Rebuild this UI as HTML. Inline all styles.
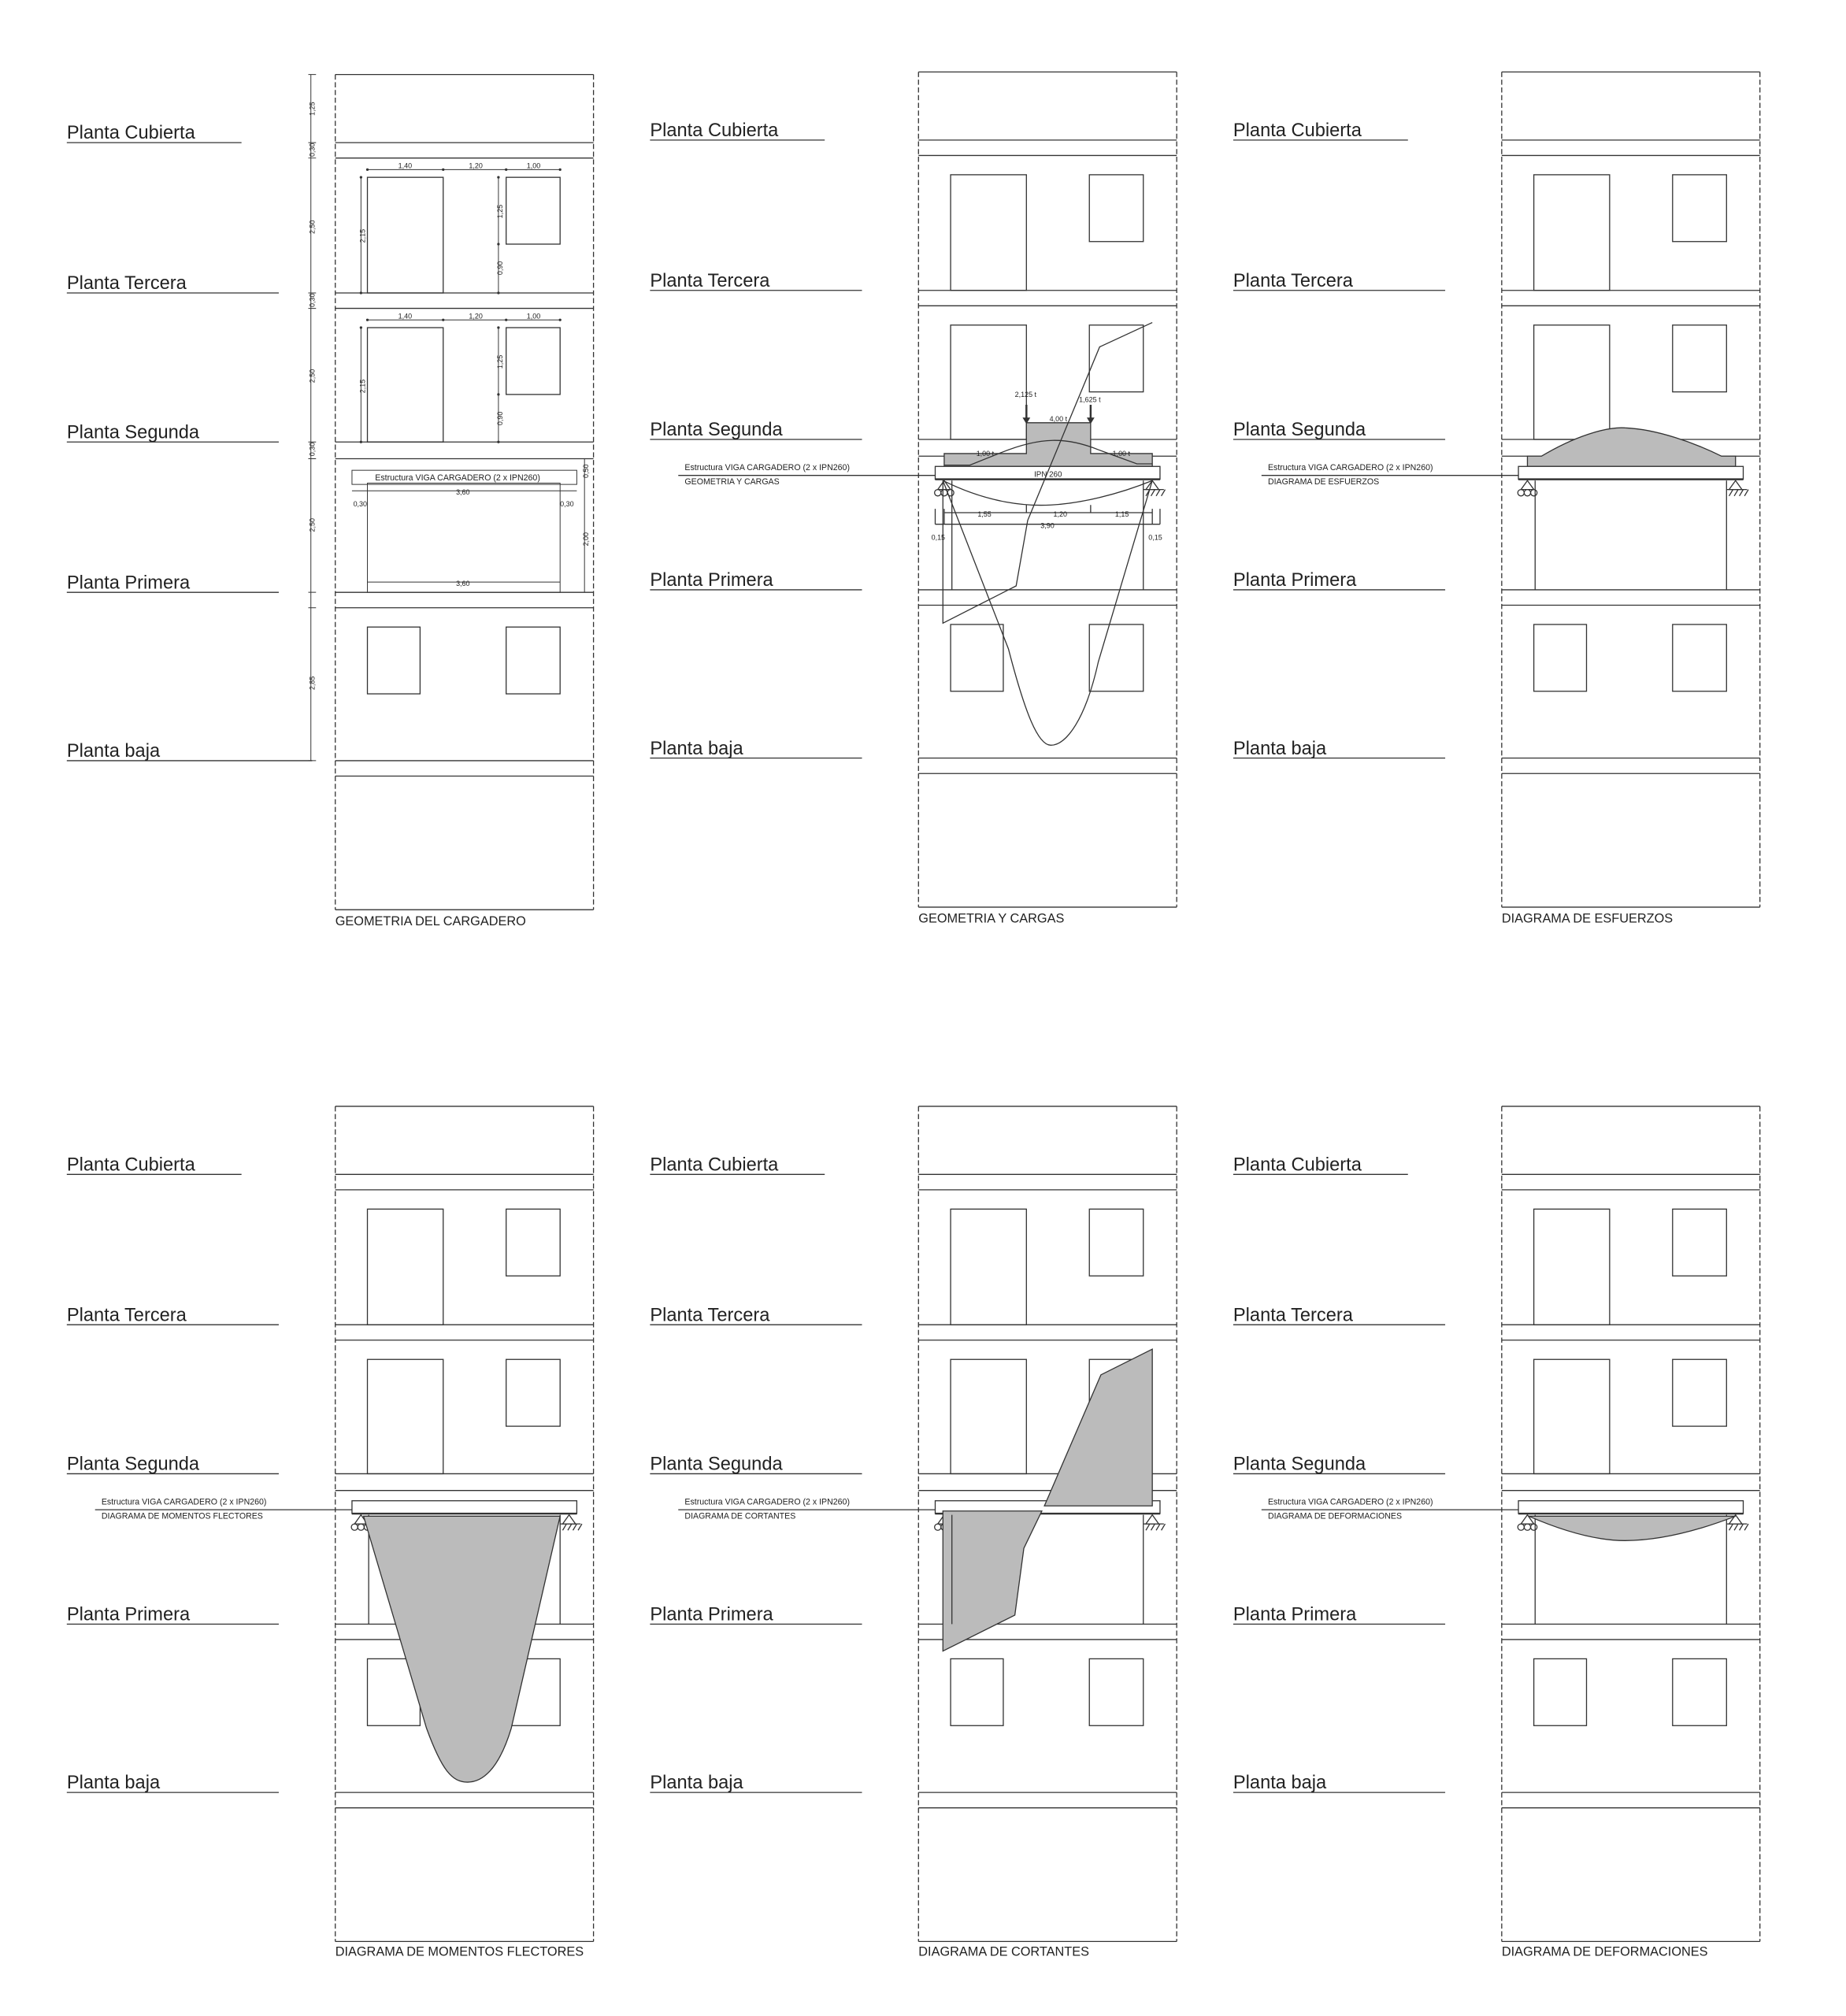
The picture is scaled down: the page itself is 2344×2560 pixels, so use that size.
<!DOCTYPE html>
<html><head><meta charset="utf-8"><style>
html,body{margin:0;padding:0;background:#fff;}
svg{display:block;}
text{font-family:"Liberation Sans",sans-serif;fill:#222;}
.pl{font-size:14.5px;}
.cap{font-size:10px;}
.an{font-size:6.5px;}
.d{font-size:5.5px;}
</style></head><body>
<svg width="2344" height="2560" viewBox="0 0 1437 1569" preserveAspectRatio="none" xmlns="http://www.w3.org/2000/svg">
<defs>
<g id="sk" stroke="#333" fill="none" stroke-width="0.8">
 <line x1="261" y1="58" x2="261" y2="708" stroke-dasharray="4 2"/>
 <line x1="462" y1="58" x2="462" y2="708" stroke-dasharray="4 2"/>
 <line x1="261" y1="58" x2="462" y2="58"/>
 <line x1="261" y1="708" x2="462" y2="708"/>
 <path d="M261 111H462M261 123H462M261 228H462M261 240H462M261 344H462M261 357H462M261 461H462M261 473H462M261 592H462M261 604H462"/>
 <rect x="286" y="138" width="59" height="90"/>
 <rect x="394" y="138" width="42" height="52"/>
 <rect x="286" y="255" width="59" height="89"/>
 <rect x="394" y="255" width="42" height="52"/>
 <rect x="286" y="488" width="41" height="52"/>
 <rect x="394" y="488" width="42" height="52"/>
</g>
<g id="bm" stroke="#333" fill="none" stroke-width="0.8">
 <rect x="274" y="365" width="175" height="10" fill="#fff"/>
 <line x1="274" y1="375" x2="449" y2="375" stroke-width="1.5"/>
 <line x1="74" y1="372" x2="274" y2="372"/>
 <line x1="287" y1="376" x2="287" y2="461"/>
 <line x1="436" y1="376" x2="436" y2="461"/>
 <path d="M281 376L276 383H286Z"/>
 <circle cx="276" cy="385.5" r="2.5"/><circle cx="281" cy="385.5" r="2.5"/><circle cx="286" cy="385.5" r="2.5"/>
 <path d="M443 376L438 383H448Z"/>
 <path d="M436 383H452M438 388L441 383M442 388L445 383M446 388L449 383M450 388L453 383"/>
</g>
</defs>

<use href="#sk"/>
<use href="#sk" transform="translate(454,-2)"/>
<use href="#sk" transform="translate(908,-2)"/>
<use href="#sk" transform="translate(0,803)"/>
<use href="#sk" transform="translate(454,803)"/>
<use href="#sk" transform="translate(908,803)"/>

<g stroke="#333" stroke-width="0.8">
 <path d="M52 111H188M52 228H217M52 344H217M52 461H217M52 592H243"/>
 <path d="M506 109H642M506 226H671M506 342H671M506 459H671M506 590H671"/>
 <path d="M960 109H1096M960 226H1125M960 342H1125M960 459H1125M960 590H1125"/>
 <path d="M52 914H188M52 1031H217M52 1147H217M52 1264H217M52 1395H217"/>
 <path d="M506 914H642M506 1031H671M506 1147H671M506 1264H671M506 1395H671"/>
 <path d="M960 914H1096M960 1031H1125M960 1147H1125M960 1264H1125M960 1395H1125"/>
</g>
<g class="pl">
 <text x="52" y="108">Planta Cubierta</text><text x="52" y="225">Planta Tercera</text><text x="52" y="341">Planta Segunda</text><text x="52" y="458">Planta Primera</text><text x="52" y="589">Planta baja</text>
 <text x="506" y="106">Planta Cubierta</text><text x="506" y="223">Planta Tercera</text><text x="506" y="339">Planta Segunda</text><text x="506" y="456">Planta Primera</text><text x="506" y="587">Planta baja</text>
 <text x="960" y="106">Planta Cubierta</text><text x="960" y="223">Planta Tercera</text><text x="960" y="339">Planta Segunda</text><text x="960" y="456">Planta Primera</text><text x="960" y="587">Planta baja</text>
 <text x="52" y="911">Planta Cubierta</text><text x="52" y="1028">Planta Tercera</text><text x="52" y="1144">Planta Segunda</text><text x="52" y="1261">Planta Primera</text><text x="52" y="1392">Planta baja</text>
 <text x="506" y="911">Planta Cubierta</text><text x="506" y="1028">Planta Tercera</text><text x="506" y="1144">Planta Segunda</text><text x="506" y="1261">Planta Primera</text><text x="506" y="1392">Planta baja</text>
 <text x="960" y="911">Planta Cubierta</text><text x="960" y="1028">Planta Tercera</text><text x="960" y="1144">Planta Segunda</text><text x="960" y="1261">Planta Primera</text><text x="960" y="1392">Planta baja</text>
</g>
<g class="cap">
 <text x="261" y="720">GEOMETRIA DEL CARGADERO</text>
 <text x="715" y="718">GEOMETRIA Y CARGAS</text>
 <text x="1169" y="718">DIAGRAMA DE ESFUERZOS</text>
 <text x="261" y="1522">DIAGRAMA DE MOMENTOS FLECTORES</text>
 <text x="715" y="1522">DIAGRAMA DE CORTANTES</text>
 <text x="1169" y="1522">DIAGRAMA DE DEFORMACIONES</text>
</g>

<g stroke="#333" stroke-width="0.6" fill="none">
 <line x1="242" y1="58" x2="242" y2="592"/>
 <path d="M240 58H246M240 111H246M240 123H246M240 228H246M240 240H246M240 344H246M240 357H246M240 461H246M240 473H246M240 592H246"/>
 <path d="M286 132H436M286 249H436"/>
 <path d="M281 138V228M388 138V228M281 255V344M388 255V344"/>
 <rect x="286" y="376" width="150" height="85"/>
 <rect x="274" y="366" width="175" height="11"/>
 <path d="M274 382H449M286 453H436M455 357V461"/>
</g>
<g fill="#333">
 <circle cx="286" cy="132" r="1"/><circle cx="345" cy="132" r="1"/><circle cx="394" cy="132" r="1"/><circle cx="436" cy="132" r="1"/>
 <circle cx="286" cy="249" r="1"/><circle cx="345" cy="249" r="1"/><circle cx="394" cy="249" r="1"/><circle cx="436" cy="249" r="1"/>
 <circle cx="281" cy="138" r="1"/><circle cx="281" cy="228" r="1"/><circle cx="388" cy="138" r="1"/><circle cx="388" cy="190" r="1"/><circle cx="388" cy="228" r="1"/>
 <circle cx="281" cy="255" r="1"/><circle cx="281" cy="344" r="1"/><circle cx="388" cy="255" r="1"/><circle cx="388" cy="307" r="1"/><circle cx="388" cy="344" r="1"/>
</g>
<g class="d">
 <text x="310" y="131">1,40</text><text x="365" y="131">1,20</text><text x="410" y="131">1,00</text>
 <text x="310" y="248">1,40</text><text x="365" y="248">1,20</text><text x="410" y="248">1,00</text>
 <text transform="translate(245,90) rotate(-90)">1,25</text>
 <text transform="translate(245,122) rotate(-90)">0,30</text>
 <text transform="translate(245,182) rotate(-90)">2,50</text>
 <text transform="translate(245,239) rotate(-90)">0,30</text>
 <text transform="translate(245,298) rotate(-90)">2,50</text>
 <text transform="translate(245,355) rotate(-90)">0,30</text>
 <text transform="translate(245,414) rotate(-90)">2,50</text>
 <text transform="translate(245,537) rotate(-90)">2,85</text>
 <text transform="translate(284,189) rotate(-90)">2,15</text>
 <text transform="translate(284,306) rotate(-90)">2,15</text>
 <text transform="translate(391,170) rotate(-90)">1,25</text>
 <text transform="translate(391,214) rotate(-90)">0,90</text>
 <text transform="translate(391,287) rotate(-90)">1,25</text>
 <text transform="translate(391,331) rotate(-90)">0,90</text>
 <text transform="translate(458,372) rotate(-90)">0,50</text>
 <text transform="translate(458,425) rotate(-90)">2,00</text>
 <text x="355" y="385">3,60</text><text x="355" y="456">3,60</text>
 <text x="275" y="394">0,30</text><text x="436" y="394">0,30</text>
</g>
<text x="292" y="374" style="font-size:6.5px">Estructura VIGA CARGADERO (2 x IPN260)</text>

<g fill="#bbb" stroke="#333" stroke-width="0.8">
 <path d="M735 363V353H799V329H849V353H897V363Z"/>
</g>
<use href="#bm" transform="translate(454,-2)"/>
<text x="805" y="371" style="font-size:6px">IPN 260</text>
<g stroke="#333" stroke-width="0.8" fill="none">
 <path d="M735 362H755L780 352C810 340 830 340 855 350L885 361H897"/>
 <path d="M734 374C770 392 800 394 818 393C840 392 870 385 897 374"/>
 <path d="M897 251L856 270L800 405L791 456L734 485V374"/>
 <path d="M734 374L785 505C798 555 808 580 818 580C830 580 845 560 855 515L897 374"/>
 <path d="M735 399H897M728 408H903M799 393V399M849 393V399M728 396V408M735 396V408M897 396V408M903 396V408"/>
 <path d="M799 315V326M849 315V326" stroke-width="1.5"/>
</g>
<g fill="#333"><path d="M796 325L802 325L799 330Z"/><path d="M846 325L852 325L849 330Z"/></g>
<g class="d">
 <text x="790" y="309">2,125 t</text><text x="840" y="313">1,625 t</text><text x="817" y="328">4,00 t</text>
 <text x="760" y="355">1,00 t</text><text x="866" y="355">1,00 t</text>
 <text x="761" y="402">1,55</text><text x="820" y="402">1,20</text><text x="868" y="402">1,15</text>
 <text x="810" y="411">3,90</text><text x="725" y="420">0,15</text><text x="894" y="420">0,15</text>
</g>
<text x="533" y="366" class="an">Estructura VIGA CARGADERO (2 x IPN260)</text>
<text x="533" y="377" class="an">GEOMETRIA Y CARGAS</text>

<path d="M1189 363V355H1200C1225 340 1250 332 1265 333C1290 334 1320 345 1340 355H1351V363Z" fill="#bbb" stroke="#333" stroke-width="0.8"/>
<use href="#bm" transform="translate(908,-2)"/>
<text x="987" y="366" class="an">Estructura VIGA CARGADERO (2 x IPN260)</text>
<text x="987" y="377" class="an">DIAGRAMA DE ESFUERZOS</text>

<use href="#bm" transform="translate(0,803)"/>
<path d="M283 1180H436L398 1345C388 1378 375 1387 364 1387C352 1387 344 1378 332 1345Z" fill="#bbb" stroke="#333" stroke-width="0.8"/>
<text x="79" y="1171" class="an">Estructura VIGA CARGADERO (2 x IPN260)</text>
<text x="79" y="1182" class="an">DIAGRAMA DE MOMENTOS FLECTORES</text>

<use href="#bm" transform="translate(454,803)"/>
<g fill="#bbb" stroke="#333" stroke-width="0.8">
 <path d="M897 1050L857 1070L813 1172H897Z"/>
 <path d="M734 1176H811L797 1205L790 1257L734 1285Z"/>
</g>
<line x1="741" y1="1179" x2="741" y2="1264" stroke="#333" stroke-width="0.8"/>
<text x="533" y="1171" class="an">Estructura VIGA CARGADERO (2 x IPN260)</text>
<text x="533" y="1182" class="an">DIAGRAMA DE CORTANTES</text>

<use href="#bm" transform="translate(908,803)"/>
<path d="M1190 1180C1220 1193 1245 1199 1265 1199C1290 1199 1320 1192 1351 1180Z" fill="#bbb" stroke="#333" stroke-width="0.8"/>
<text x="987" y="1171" class="an">Estructura VIGA CARGADERO (2 x IPN260)</text>
<text x="987" y="1182" class="an">DIAGRAMA DE DEFORMACIONES</text>
</svg>
</body></html>
